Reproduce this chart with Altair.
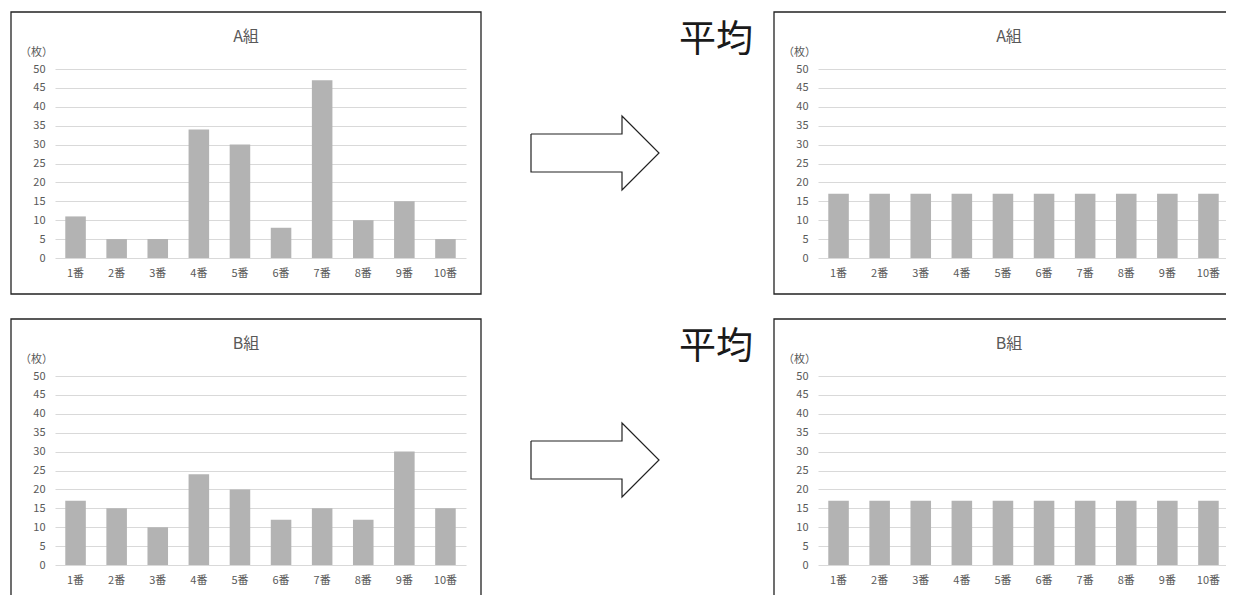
import altair as alt
import pandas as pd

# ---- data ----
CATEGORIES = ["1番", "2番", "3番", "4番", "5番", "6番", "7番", "8番", "9番", "10番"]
A_VALUES = [11, 5, 5, 34, 30, 8, 47, 10, 15, 5]
B_VALUES = [17, 15, 10, 24, 20, 12, 15, 12, 30, 15]
A_AVERAGE = [17, 17, 17, 17, 17, 17, 17, 17, 17, 17]
B_AVERAGE = [17, 17, 17, 17, 17, 17, 17, 17, 17, 17]
Y_TICKS = [0, 5, 10, 15, 20, 25, 30, 35, 40, 45, 50]
TITLE_A = "A組"
TITLE_B = "B組"
UNIT = "（枚）"
AVERAGE_LABEL = "平均"

# arrow outline (shape geometry, in arrow-panel units)
ARROW_X = [35, 126, 126, 163, 126, 126, 35, 35]
ARROW_Y = [65, 65, 47, 84, 121, 103, 103, 65]

FONT = "Noto Sans CJK JP"
TEXT_COLOR = "#595959"
BAR_COLOR = "#b3b3b3"
GRID_COLOR = "#d9d9d9"
FRAME_COLOR = "#222222"
PW, PH = 411, 189          # plot area of each bar chart
ARROW_W = 292              # width of the arrow column
FL, FR, FT, FB = -44, PW + 15, -57, PH + 36   # frame edges around a plot


def bar_panel(title, values):
    df = pd.DataFrame({"番号": CATEGORIES, "枚数": values})
    frame = alt.Chart(pd.DataFrame({"k": [0]})).mark_rect(
        filled=False, stroke=FRAME_COLOR, strokeWidth=1.3
    ).encode(x=alt.value(FL), x2=alt.value(FR), y=alt.value(FT), y2=alt.value(FB))
    bars = alt.Chart(df).mark_bar(color=BAR_COLOR).encode(
        x=alt.X(
            "番号:N",
            sort=CATEGORIES,
            scale=alt.Scale(paddingInner=0.5, paddingOuter=0.25),
            axis=alt.Axis(
                title=None, labelAngle=0, domain=False, ticks=False, tickSize=0,
                labelPadding=9, labelFontSize=11, labelColor=TEXT_COLOR,
                labelFont=FONT, grid=False,
            ),
        ),
        y=alt.Y(
            "枚数:Q",
            scale=alt.Scale(domain=[0, 50], nice=False),
            axis=alt.Axis(
                values=Y_TICKS, title=UNIT, titleAngle=0, titleX=-19, titleY=-17,
                titleAlign="center", titleBaseline="middle", titleFontWeight="normal",
                titleFontSize=11, titleColor=TEXT_COLOR, titleFont=FONT,
                domain=False, ticks=False, tickSize=0, labelPadding=10,
                labelFontSize=11, labelColor=TEXT_COLOR, labelFont=FONT,
                grid=True, gridColor=GRID_COLOR, gridWidth=1,
            ),
        ),
    )
    head = alt.Chart(pd.DataFrame({"t": [title]})).mark_text(
        fontSize=16, color=TEXT_COLOR, font=FONT
    ).encode(text="t:N", x=alt.value((FL + FR) / 2), y=alt.value(-32))
    return alt.layer(frame, bars, head).properties(width=PW, height=PH)


def arrow_panel():
    adf = pd.DataFrame({"x": ARROW_X, "y": ARROW_Y, "i": list(range(len(ARROW_X)))})
    arrow = alt.Chart(adf).mark_line(
        color=FRAME_COLOR, strokeWidth=1.2, strokeJoin="miter"
    ).encode(
        x=alt.X("x:Q", scale=alt.Scale(domain=[0, ARROW_W], nice=False, zero=False), axis=None),
        y=alt.Y("y:Q", scale=alt.Scale(domain=[0, PH], nice=False, reverse=True), axis=None),
        order="i:Q",
    )
    label = alt.Chart(pd.DataFrame({"t": [AVERAGE_LABEL]})).mark_text(
        fontSize=37, font=FONT, color="#1a1a1a"
    ).encode(text="t:N", x=alt.value(220), y=alt.value(-28))
    return alt.layer(arrow, label).properties(width=ARROW_W, height=PH)


chart = alt.concat(
    bar_panel(TITLE_A, A_VALUES), arrow_panel(), bar_panel(TITLE_A, A_AVERAGE),
    bar_panel(TITLE_B, B_VALUES), arrow_panel(), bar_panel(TITLE_B, B_AVERAGE),
    columns=3,
    spacing={"row": 118, "column": 30},
    bounds="flush",
).properties(
    # negative right padding crops the chart at the window edge,
    # like the reference, whose right-hand panels are cut off
    padding={"left": 2, "top": 3, "right": -19, "bottom": 0},
    background="white",
).configure_view(stroke=None)

chart.save("out.html", embed_options={"renderer": "svg", "actions": False})
